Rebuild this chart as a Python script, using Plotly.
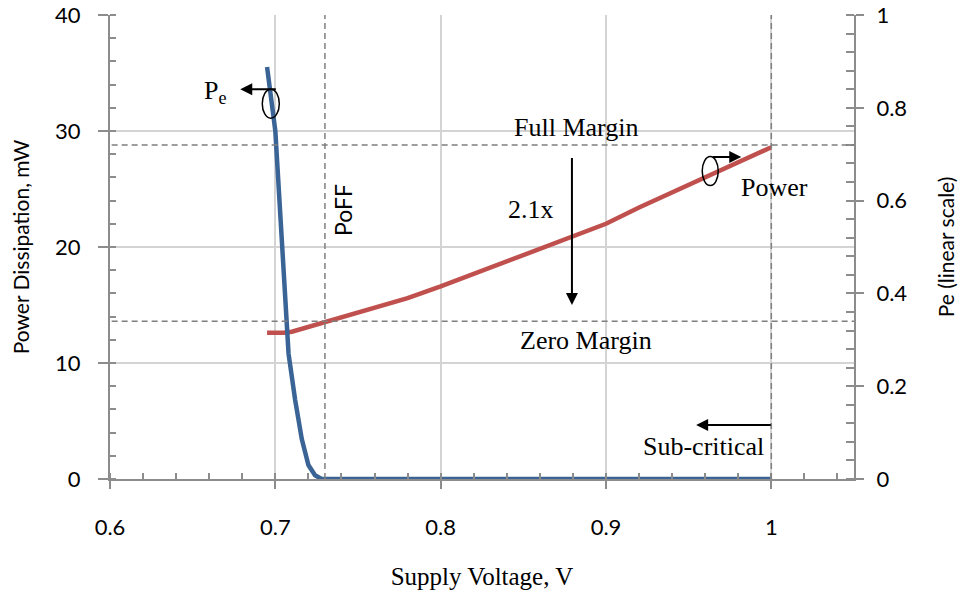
import plotly.graph_objects as go

# ---- data ----
pe_voltage = [0.695, 0.700, 0.704, 0.708, 0.712, 0.716, 0.720, 0.724, 0.728, 0.75, 0.80, 0.85, 0.90, 0.95, 1.00]
pe_values = [0.888, 0.75, 0.51, 0.27, 0.17, 0.086, 0.03, 0.008, 0.0, 0.0, 0.0, 0.0, 0.0, 0.0, 0.0]

power_voltage = [0.695, 0.705, 0.71, 0.72, 0.73, 0.74, 0.745, 0.76, 0.78, 0.80, 0.82, 0.84, 0.86,
                 0.88, 0.90, 0.92, 0.94, 0.96, 0.98, 1.00]
power_mw = [12.6, 12.6, 12.7, 13.1, 13.5, 13.9, 14.2, 14.7, 15.6, 16.6, 17.7, 18.8, 19.8,
            20.9, 22.0, 23.4, 24.7, 26.0, 27.3, 28.6]

x_ticks = [0.6, 0.7, 0.8, 0.9, 1.0]
x_tick_labels = ["0.6", "0.7", "0.8", "0.9", "1"]

POFF_V = 0.73
NOMINAL_V = 1.0
FULL_MARGIN_MW = 28.8
ZERO_MARGIN_MW = 13.6

X_RANGE = [0.6, 1.05]
Y_RANGE = [0, 40]
Y2_RANGE = [0, 1]

SANS = "Lato, Open Sans, sans-serif"
SERIF = "Liberation Serif, Times New Roman, serif"
AXIS_GRAY = "#8c8c8c"
GRID_GRAY = "#d4d4d4"
DASH_GRAY = "#7f7f7f"

fig = go.Figure()

fig.add_trace(go.Scatter(x=power_voltage, y=power_mw, mode="lines", name="Power",
                         line=dict(color="#c0504d", width=4.5), yaxis="y", showlegend=False))
fig.add_trace(go.Scatter(x=pe_voltage, y=pe_values, mode="lines", name="Pe",
                         line=dict(color="#3a6496", width=4.5), yaxis="y2", showlegend=False))

# dashed reference lines
dash = dict(color=DASH_GRAY, width=1.5, dash="6px,4px")
for xv in [POFF_V, NOMINAL_V]:
    fig.add_shape(type="line", xref="x", yref="y", x0=xv, x1=xv, y0=0, y1=40.4, line=dash, layer="above")
for yv in [FULL_MARGIN_MW, ZERO_MARGIN_MW]:
    fig.add_shape(type="line", xref="x", yref="y", x0=0.601, x1=1.05, y0=yv, y1=yv, line=dash, layer="above")

# ellipses
fig.add_shape(type="circle", xref="x", yref="y", x0=0.6921, x1=0.7024, y0=31.1, y1=33.6,
              line=dict(color="black", width=1.5))
fig.add_shape(type="circle", xref="x", yref="y", x0=0.9582, x1=0.9679, y0=25.3, y1=27.8,
              line=dict(color="black", width=1.5))

# arrows
def arrow(x0, y0, x1, y1):
    fig.add_annotation(x=x1, y=y1, ax=x0, ay=y0, xref="x", yref="y", axref="x", ayref="y",
                       text="", showarrow=True, arrowhead=2, arrowsize=1.2, arrowwidth=2,
                       arrowcolor="black")

arrow(0.8794, 27.8, 0.8794, 15.0)
arrow(1.0006, 4.66, 0.9545, 4.66)
arrow(0.7012, 33.6, 0.6788, 33.6)
arrow(0.9636, 27.76, 0.9818, 27.76)

def label(x, y, text, font=SERIF, size=26, angle=0):
    fig.add_annotation(x=x, y=y, xref="x", yref="y", text=text, showarrow=False,
                       font=dict(family=font, size=size, color="black"), textangle=angle)

label(0.8818, 30.3, "Full Margin")
label(0.8545, 23.2, "2.1x")
label(0.888, 11.9, "Zero Margin")
label(0.9588, 2.76, "Sub-critical")
label(1.0018, 25.1, "Power")
label(0.741, 23.2, "PoFF", font=SANS, size=23, angle=-90)
label(0.6636, 33.4, "P<sub>e</sub>")

tickfont = dict(family=SANS, size=22, color="black")

fig.update_layout(
    width=968, height=599,
    margin=dict(l=102, r=122, t=7, b=128, autoexpand=False),
    paper_bgcolor="white", plot_bgcolor="white",
    xaxis=dict(range=X_RANGE, tickvals=x_ticks, ticktext=x_tick_labels, automargin=False,
               showline=True, linecolor=AXIS_GRAY, linewidth=2, ticklabeloverflow="allow",
               ticks="outside", ticklen=8, tickwidth=1.5, tickcolor=AXIS_GRAY,
               minor=dict(dtick=0.02, ticks="inside", ticklen=6, tickcolor=AXIS_GRAY, tickwidth=1.5, showgrid=False),
               showgrid=True, gridcolor=GRID_GRAY, gridwidth=1.5, zeroline=False,
               tickfont=tickfont, ticklabelstandoff=20,
               title=dict(text="Supply Voltage, V", font=dict(family=SERIF, size=25, color="black"), standoff=28)),
    yaxis=dict(range=Y_RANGE, dtick=10, showline=True, linecolor=AXIS_GRAY, linewidth=2, automargin=False,
               ticks="outside", ticklen=10, tickwidth=1.5, tickcolor=AXIS_GRAY, ticklabeloverflow="allow",
               minor=dict(dtick=2, ticks="inside", ticklen=6, tickcolor=AXIS_GRAY, tickwidth=1.5, showgrid=False),
               showgrid=True, gridcolor=GRID_GRAY, gridwidth=1.5, zeroline=False,
               tickfont=tickfont, ticklabelstandoff=13,
               title=dict(text="Power Dissipation, mW", font=dict(family=SANS, size=21, color="black"), standoff=21)),
    yaxis2=dict(range=Y2_RANGE, dtick=0.2, overlaying="y", side="right", anchor="x", automargin=False,
                showline=True, linecolor=AXIS_GRAY, linewidth=2, ticklabeloverflow="allow",
                ticks="outside", ticklen=8, tickwidth=1.5, tickcolor=AXIS_GRAY,
                minor=dict(dtick=0.04, ticks="inside", ticklen=8, tickcolor=AXIS_GRAY, tickwidth=1.5, showgrid=False),
                showgrid=False, zeroline=False, tickfont=tickfont, ticklabelstandoff=8,
                title=dict(text="Pe (linear scale)", font=dict(family=SANS, size=21, color="black"), standoff=33)),
    # overlay axes to draw the inner half of crossing major ticks
    xaxis2=dict(range=X_RANGE, overlaying="x", anchor="y", side="bottom", tickvals=x_ticks, automargin=False,
                ticks="inside", ticklen=6, tickwidth=1.5, tickcolor=AXIS_GRAY,
                showticklabels=False, showgrid=False, showline=False, zeroline=False),
    yaxis3=dict(range=Y_RANGE, overlaying="y", anchor="x", side="left", dtick=10, automargin=False,
                ticks="inside", ticklen=7, tickwidth=1.5, tickcolor=AXIS_GRAY,
                showticklabels=False, showgrid=False, showline=False, zeroline=False),
    yaxis4=dict(range=Y2_RANGE, overlaying="y", anchor="x", side="right", dtick=0.2, automargin=False,
                ticks="inside", ticklen=8, tickwidth=1.5, tickcolor=AXIS_GRAY,
                showticklabels=False, showgrid=False, showline=False, zeroline=False),
)

fig.write_html("out.html")
